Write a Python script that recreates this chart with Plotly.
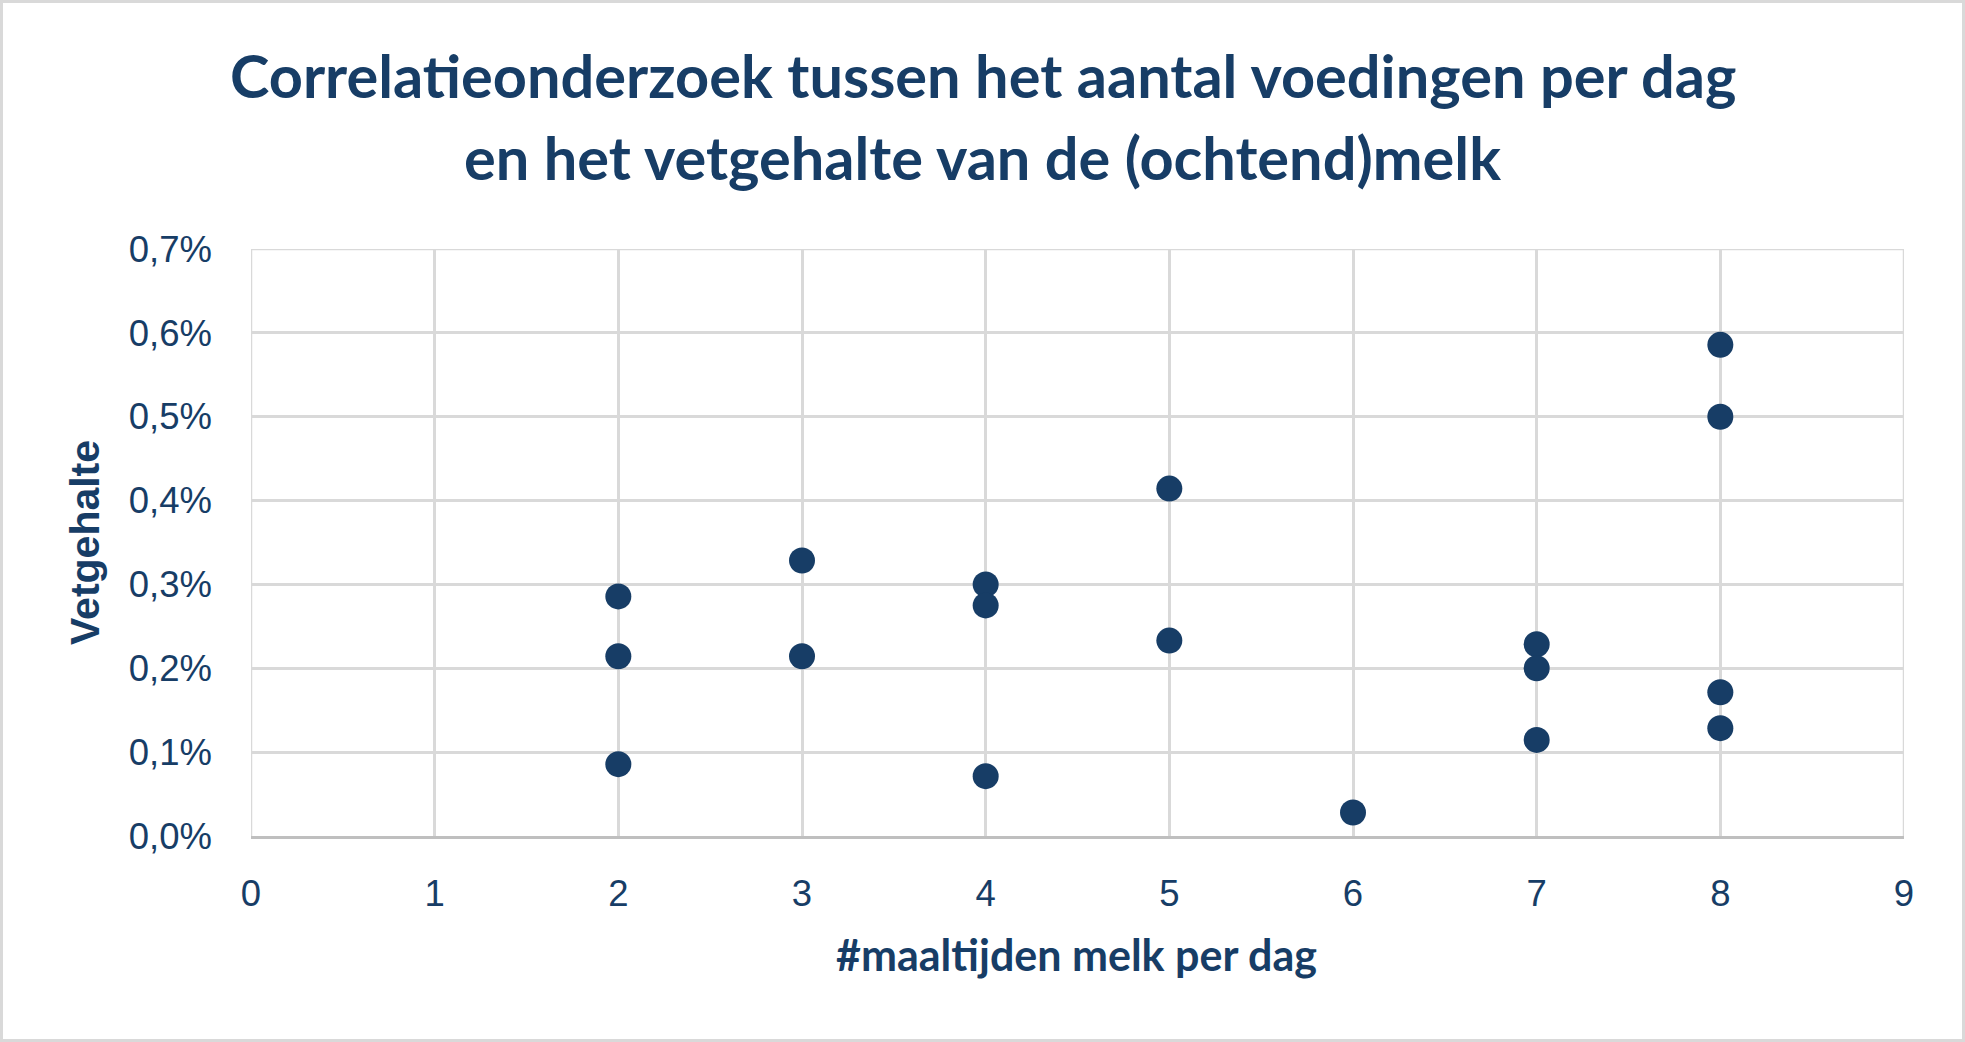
import plotly.graph_objects as go

# ---- data ----
maaltijden = [2, 2, 2, 3, 3, 4, 4, 4, 5, 5, 6, 7, 7, 7, 8, 8, 8, 8]
vetgehalte_pct = [0.2857, 0.2143, 0.0857, 0.3286, 0.2143, 0.300, 0.275, 0.0714,
                  0.4143, 0.2330, 0.0280, 0.2286, 0.200, 0.1146, 0.5857, 0.500,
                  0.1714, 0.1286]
vetgehalte = [v / 100 for v in vetgehalte_pct]

x_range = [0, 9]
y_range = [0, 0.007]

title_line1 = "Correlatieonderzoek tussen het aantal voedingen per dag"
title_line2 = "en het vetgehalte van de (ochtend)melk"
x_title = "#maaltijden melk per dag"
y_title = "Vetgehalte"

NAVY = "#173D66"
GRID = "#D9D9D9"

W, H = 1965, 1042
L, R, T, B = 251, 61, 249, 206
PW, PH = W - L - R, H - T - B


def px_x(p):
    return (p - L) / PW


def px_y(p):
    return (H - B - p) / PH


fig = go.Figure()

# edge gridlines (plotly omits gridlines on the range edges)
for xv in x_range:
    fig.add_shape(type="line", xref="x", yref="y", x0=xv, x1=xv,
                  y0=y_range[0], y1=y_range[1],
                  line=dict(color=GRID, width=2.5), layer="below")
fig.add_shape(type="line", xref="x", yref="y", x0=x_range[0], x1=x_range[1],
              y0=y_range[1], y1=y_range[1],
              line=dict(color=GRID, width=2.5), layer="below")

fig.add_trace(go.Scatter(
    x=maaltijden, y=vetgehalte, mode="markers",
    marker=dict(size=26, color=NAVY, line=dict(width=0)),
    showlegend=False, cliponaxis=False,
))

fig.update_layout(
    width=W, height=H,
    margin=dict(l=L, r=R, t=T, b=B),
    paper_bgcolor="white", plot_bgcolor="white",
    separators=", ",
    font=dict(family="Liberation Sans", color=NAVY),
    showlegend=False,
)

fig.update_xaxes(
    range=x_range, dtick=1, tick0=0,
    showgrid=True, gridcolor=GRID, gridwidth=2.5,
    zeroline=False,
    showline=True, linecolor="#BFBFBF", linewidth=3,
    ticks="", ticklabelstandoff=23,
    tickfont=dict(family="Liberation Sans", size=36.5, color=NAVY),
)
fig.update_yaxes(
    range=y_range, dtick=0.001, tick0=0, tickformat=".1%",
    showgrid=True, gridcolor=GRID, gridwidth=2.5,
    zeroline=False, showline=False,
    ticks="", ticklabelstandoff=38,
    tickfont=dict(family="Liberation Sans", size=36.5, color=NAVY),
)

# titles
fig.add_annotation(text="<b>" + title_line1 + "</b>", x=px_x(W / 2), y=px_y(75),
                   xref="paper", yref="paper", showarrow=False,
                   xanchor="center", yanchor="middle",
                   font=dict(family="Lato", size=59.5, color=NAVY))
fig.add_annotation(text="<b>" + title_line2 + "</b>", x=px_x(W / 2), y=px_y(157),
                   xref="paper", yref="paper", showarrow=False,
                   xanchor="center", yanchor="middle",
                   font=dict(family="Lato", size=59.5, color=NAVY))
fig.add_annotation(text="<b>" + x_title + "</b>", x=px_x(1076), y=px_y(954),
                   xref="paper", yref="paper", showarrow=False,
                   xanchor="center", yanchor="middle",
                   font=dict(family="Lato", size=43, color=NAVY))
fig.add_annotation(text="<b>" + y_title + "</b>", x=px_x(85), y=px_y(543),
                   xref="paper", yref="paper", showarrow=False, textangle=-90,
                   xanchor="center", yanchor="middle",
                   font=dict(family="Liberation Sans", size=41, color=NAVY))

# outer chart border
fig.add_shape(type="rect", xref="paper", yref="paper",
              x0=px_x(1.5), x1=px_x(W - 1.5), y0=px_y(H - 1.5), y1=px_y(1.5),
              line=dict(color=GRID, width=3), fillcolor="rgba(0,0,0,0)", layer="above")

fig.write_html("out.html")
